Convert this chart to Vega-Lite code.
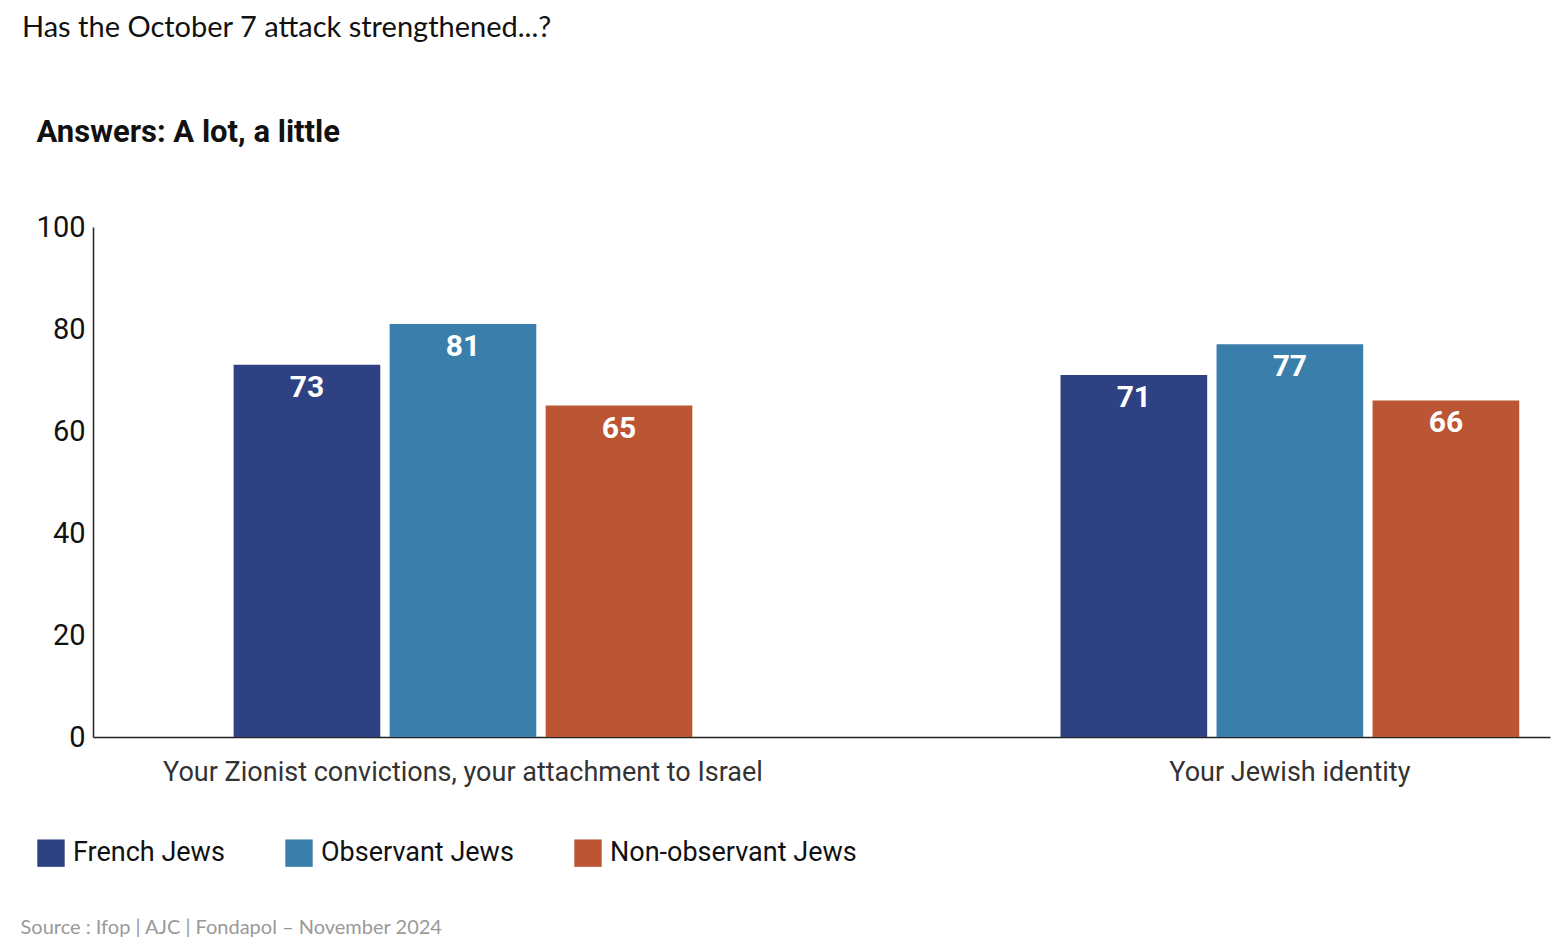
{
"$schema":"https://vega.github.io/schema/vega-lite/v6.json",
"width":1457,"height":510,
"autosize":{"type":"none"},
"padding":{"left":93,"top":227,"right":2,"bottom":210},
"background":"white",
"config":{"view":{"stroke":null},"font":"Roboto"},
"title":{"text":"Has the October 7 attack strengthened...?","anchor":"start","frame":"group","dx":-71,"offset":73,"fontSize":29,"font":"Lato","fontWeight":"normal","color":"#111"},
"data":{"values":[
{"cat":"Your Zionist convictions, your attachment to Israel","group":"French Jews","o":1,"v":73},
{"cat":"Your Zionist convictions, your attachment to Israel","group":"Observant Jews","o":2,"v":81},
{"cat":"Your Zionist convictions, your attachment to Israel","group":"Non-observant Jews","o":3,"v":65},
{"cat":"Your Jewish identity","group":"French Jews","o":1,"v":71},
{"cat":"Your Jewish identity","group":"Observant Jews","o":2,"v":77},
{"cat":"Your Jewish identity","group":"Non-observant Jews","o":3,"v":66}
]},
"encoding":{
"x":{"field":"cat","type":"nominal","sort":null,"scale":{"paddingInner":0.4,"paddingOuter":0.081,"align":0.91},
 "axis":{"labelAngle":0,"labelFontSize":27,"labelLimit":0,"labelColor":"#333","labelPadding":22,"ticks":false,"domainColor":"#222","domainWidth":1.5,
 "title":"Source : Ifop | AJC | Fondapol – November 2024","titleFont":"Lato","titleFontWeight":"normal","titleFontSize":20,"titleColor":"#999","titleAlign":"left","titleAnchor":"start","titleX":-73,"titleY":180}},
"xOffset":{"field":"group","type":"nominal","sort":["French Jews","Observant Jews","Non-observant Jews"],"scale":{"paddingInner":0.06,"paddingOuter":0.12}},
"y":{"field":"v","type":"quantitative","scale":{"domain":[0,100]},
 "axis":{"values":[0,20,40,60,80,100],"labelFontSize":29,"labelColor":"#111","ticks":false,"grid":false,"domainColor":"#222","domainWidth":1.5,"labelPadding":8,
 "title":"Answers: A lot, a little","titleAngle":0,"titleFontSize":31,"titleFontWeight":"bold","titleColor":"#111","titleAlign":"left","titleBaseline":"middle","titleX":-57,"titleY":-95}}
},
"layer":[
{"mark":{"type":"bar"},
 "encoding":{"color":{"field":"group","type":"nominal","sort":["French Jews","Observant Jews","Non-observant Jews"],
  "scale":{"range":["#2e4182","#3a7fac","#bb5534"]},
  "legend":{"orient":"none","legendX":-56,"legendY":612,"direction":"horizontal","title":null,"symbolType":"square","symbolSize":750,"symbolStrokeWidth":0,"labelFontSize":27,"labelLimit":0,"labelColor":"#111","columnPadding":60,"labelOffset":8}}}},
{"mark":{"type":"text","baseline":"top","dy":8,"color":"white","fontSize":30,"fontWeight":"bold"},
 "encoding":{"text":{"field":"v","type":"quantitative"}}}
]
}
